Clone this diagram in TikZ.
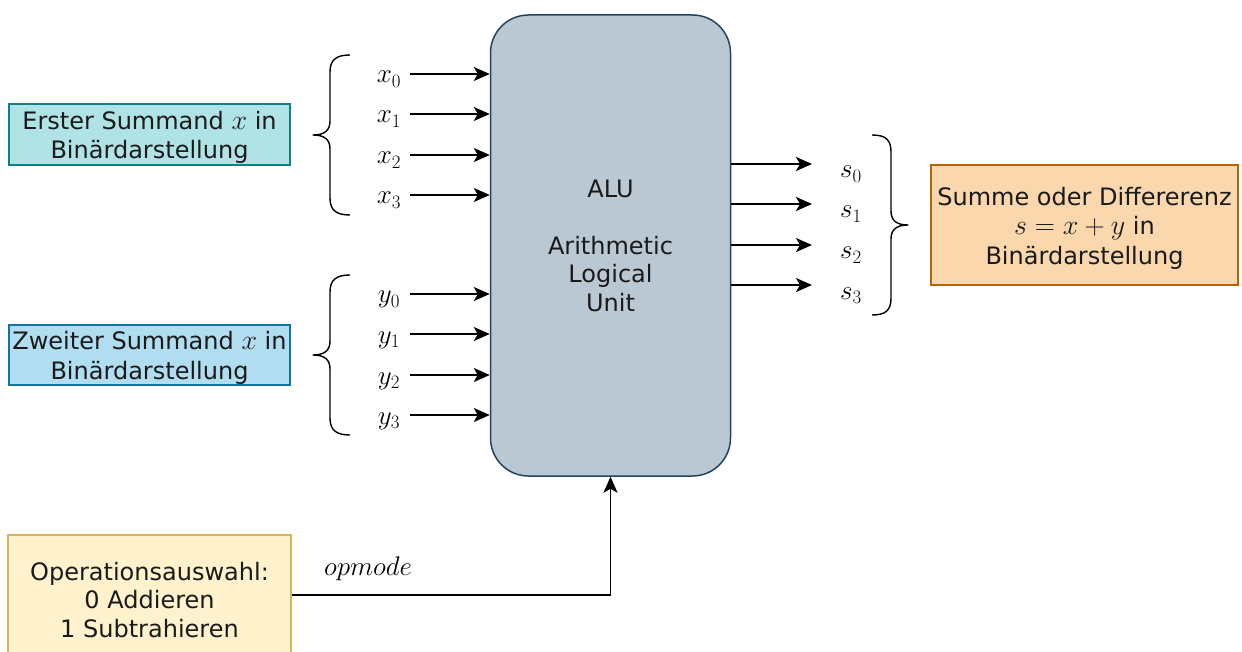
\documentclass[tikz,border=0pt]{standalone}
\usepackage{fix-cm}
\usepackage{fontspec}
\setmainfont{DejaVu Sans}
\usetikzlibrary{arrows.meta}
\definecolor{aluFill}{HTML}{BAC8D3}
\definecolor{aluLine}{HTML}{23445D}
\definecolor{xFill}{HTML}{B0E3E6}
\definecolor{xLine}{HTML}{0E8088}
\definecolor{yFill}{HTML}{B1DDF0}
\definecolor{yLine}{HTML}{10739E}
\definecolor{sFill}{HTML}{FAD7AC}
\definecolor{sLine}{HTML}{B46504}
\definecolor{oFill}{HTML}{FFF2CC}
\definecolor{oLine}{HTML}{D6B656}
\definecolor{txt}{HTML}{1A1A1A}
\newcommand{\topstrut}{\rule{0pt}{24pt}}
\newcommand{\boxmath}[1]{{\fontsize{28}{29.5}\selectfont$#1$}}
\tikzset{
  box/.style={draw, line width=1.5pt, align=center, inner sep=0pt, text=txt,
    font=\fontsize{24}{29.5}\selectfont},
  sig/.style={inner sep=0pt, anchor=base, font=\fontsize{27}{30}\selectfont},
  arr/.style={line width=1.9pt, -{Stealth[length=16pt,width=14pt,inset=4pt]}},
  brc/.style={line width=1.4pt, line join=round},
}
\begin{document}
\begin{tikzpicture}[x=1pt,y=-1pt]
\useasboundingbox (0,0) rectangle (1242,652);

% ALU
\node[box, fill=aluFill, draw=aluLine, rounded corners=38pt,
      minimum width=240pt, minimum height=461pt,
      font=\fontsize{24}{28.5}\selectfont] (alu) at (610.5,245.5)
  {ALU\\\mbox{}\\Arithmetic\\Logical\\Unit};

% side boxes
\node[box, fill=xFill, draw=xLine, minimum width=281pt, minimum height=61pt] (xin) at (149.5,134.5)
  {\topstrut Erster Summand \boxmath{x} in\\Binärdarstellung};
\node[box, fill=yFill, draw=yLine, minimum width=281pt, minimum height=60pt] (yin) at (149.5,355)
  {\topstrut Zweiter Summand \boxmath{x} in\\Binärdarstellung};
\node[box, fill=sFill, draw=sLine, minimum width=307pt, minimum height=120pt] (sout) at (1084.5,225)
  {\topstrut Summe oder Differerenz\\\boxmath{s=x+y} in\\Binärdarstellung};
\node[box, fill=oFill, draw=oLine, minimum width=283pt, minimum height=130pt,
      font=\fontsize{24}{28.5}\selectfont] (op) at (149.5,600)
  {Operationsauswahl:\\0 Addieren\\1 Subtrahieren};

% x inputs
\foreach \i/\yy in {0/74,1/114,2/155,3/195}{
  \node[sig] (x\i) at (389,\yy+9) {$x_{\i}$};
  \coordinate (xa\i) at (410,\yy);
  \draw[arr] (xa\i) -- (xa\i -| alu.west);
}
% y inputs
\foreach \i/\yy in {0/294,1/334,2/375,3/415}{
  \node[sig] (y\i) at (389,\yy+9) {$y_{\i}$};
  \coordinate (ya\i) at (410,\yy);
  \draw[arr] (ya\i) -- (ya\i -| alu.west);
}
% s outputs
\foreach \i/\yy in {0/164,1/204,2/245,3/285}{
  \node[sig] (s\i) at (851,\yy+14) {$s_{\i}$};
  \coordinate (sa\i) at (812,\yy);
  \draw[arr] (sa\i -| alu.east) -- (sa\i);
}

% braces
\draw[brc] (350,55) .. controls (336,55) and (330,60) .. (330,72) -- (330,121)
  .. controls (330,130) and (325,135) .. (313,135)
  .. controls (325,135) and (330,140) .. (330,149) -- (330,198)
  .. controls (330,210) and (336,215) .. (350,215);
\draw[brc] (350,275) .. controls (336,275) and (330,280) .. (330,292) -- (330,341)
  .. controls (330,350) and (325,355) .. (313,355)
  .. controls (325,355) and (330,360) .. (330,369) -- (330,418)
  .. controls (330,430) and (336,435) .. (350,435);
\draw[brc] (872,135) .. controls (886,135) and (891,140) .. (891,152) -- (891,211)
  .. controls (891,220) and (896,225) .. (908,225)
  .. controls (896,225) and (891,230) .. (891,239) -- (891,298)
  .. controls (891,310) and (886,315) .. (872,315);

% opmode
\node[sig, anchor=center] (opl) at (368,569) {$opmode$};
\coordinate (opc) at (610.5,595);
\draw[arr] (op.east |- opc) -- (opc) -- (alu.south);
\end{tikzpicture}
\end{document}
